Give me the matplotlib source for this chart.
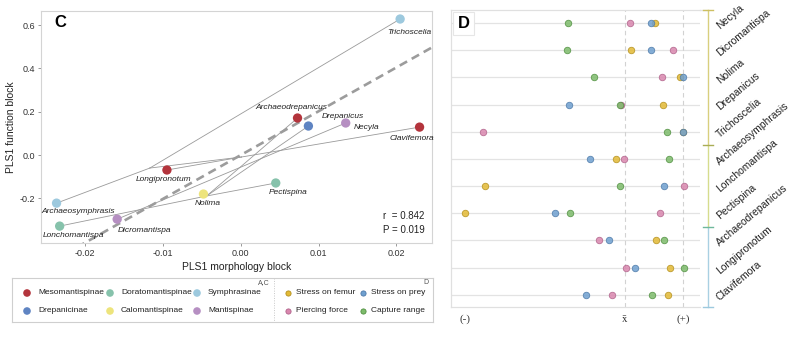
import numpy as np
import matplotlib
matplotlib.use("Agg")
import matplotlib.pyplot as plt
from matplotlib.ticker import FormatStrFormatter

plt.rcParams['font.family'] = ['Liberation Sans', 'DejaVu Sans']
plt.rcParams['mathtext.fontset'] = 'stix'

# ---------------- Panel C data ----------------
taxa = ["Trichoscelia", "Archaeodrepanicus", "Drepanicus", "Necyla", "Clavifemora",
        "Pectispina", "Nolima", "Longipronotum", "Archaeosymphrasis", "Lonchomantispa",
        "Dicromantispa"]
subfamily = ["Symphrasinae", "Mesomantispinae", "Drepanicinae", "Mantispinae", "Mesomantispinae",
             "Doratomantispinae", "Calomantispinae", "Mesomantispinae", "Symphrasinae",
             "Doratomantispinae", "Mantispinae"]
morph = [0.0205, 0.0073, 0.0087, 0.0135, 0.0230, 0.0045, -0.0048, -0.0095, -0.0237, -0.0233, -0.0159]
func = [0.628, 0.171, 0.134, 0.148, 0.129, -0.129, -0.180, -0.069, -0.222, -0.328, -0.296]

# internal (ancestral) nodes of the phylomorphospace
node_names = ["nA", "nB", "nC"]
node_morph = [-0.0117, 0.0001, -0.0044]
node_func = [-0.060, -0.009, -0.189]
edges = [("Archaeosymphrasis", "nA"), ("nA", "Trichoscelia"), ("nA", "nB"),
         ("Longipronotum", "nB"), ("nB", "Clavifemora"),
         ("Lonchomantispa", "nC"), ("nC", "Pectispina"), ("nC", "Nolima"),
         ("nC", "Archaeodrepanicus"), ("nC", "Drepanicus"), ("Dicromantispa", "Necyla")]

fit_slope = 20.2
fit_intercept = 0.0
r_value = 0.842
p_value = 0.019

subfam_order = ["Mesomantispinae", "Doratomantispinae", "Symphrasinae",
                "Drepanicinae", "Calomantispinae", "Mantispinae"]
subfam_colors = {"Mesomantispinae": "#b3343c", "Doratomantispinae": "#86c2ab",
                 "Symphrasinae": "#9dc9de", "Drepanicinae": "#5f84c2",
                 "Calomantispinae": "#ede47c", "Mantispinae": "#b68fc2"}

# ---------------- Panel D data ----------------
d_taxa = ["Necyla", "Dicromantispa", "Nolima", "Drepanicus", "Trichoscelia",
          "Archaeosymphrasis", "Lonchomantispa", "Pectispina", "Archaeodrepanicus",
          "Longipronotum", "Clavifemora"]
stress_femur = [0.52, 0.10, 0.95, 0.66, 1.00, -0.16, -2.41, -2.76, 0.53, 0.78, 0.74]
stress_prey = [0.45, 0.45, 1.00, -0.97, 1.00, -0.60, 0.67, -1.21, -0.28, 0.17, -0.67]
piercing = [0.09, 0.83, 0.64, -0.07, -2.45, -0.02, 1.02, 0.60, -0.45, 0.02, -0.22]
capture = [-0.98, -1.00, -0.53, -0.09, 0.72, 0.76, -0.09, -0.95, 0.67, 1.02, 0.47]
d_tick_pos = [-2.76, 0.0, 1.0]
d_tick_labels = ["(-)", r"$\bar{\mathrm{x}}$", "(+)"]
group_bounds = [-0.48, 4.5, 7.5, 10.45]
group_colors = ["#d8cf7e", "#d6dc8e", "#a9d0e2"]
group_tick_colors = ["#cdbf62", "#a9ad55", "#6fb89c", "#9dc9de"]

metric_names = ["Stress on femur", "Stress on prey", "Piercing force", "Capture range"]
metric_face = ["#e3ba35", "#6fa0d0", "#d987ae", "#7dbb6b"]
metric_edge = ["#b38f1c", "#4c79a8", "#b0618a", "#4f8f3f"]

# ---------------- figure ----------------
fig = plt.figure(figsize=(8, 3.39), dpi=100)
W, H = 800.0, 339.0

def px_axes(x0, y0, x1, y1):
    return fig.add_axes([x0 / W, 1 - y1 / H, (x1 - x0) / W, (y1 - y0) / H])

# ---- Panel C ----
axC = px_axes(41, 11, 432, 243)
axC.set_xlim(-0.0257, 0.0246)
axC.set_ylim(-0.406, 0.665)
for s in axC.spines.values():
    s.set_color("#d4d4d4")
    s.set_linewidth(0.8)
axC.set_xticks([-0.02, -0.01, 0.0, 0.01, 0.02])
axC.set_yticks([-0.2, 0.0, 0.2, 0.4, 0.6])
axC.xaxis.set_major_formatter(FormatStrFormatter('%.2f'))
axC.yaxis.set_major_formatter(FormatStrFormatter('%.1f'))
axC.tick_params(labelsize=6.5, length=2, width=0.6, color="#888888", labelcolor="#333333", pad=2)
axC.set_xlabel("PLS1 morphology block", fontsize=7.5, color="#222222", labelpad=3)
axC.set_ylabel("PLS1 function block", fontsize=7.5, color="#222222", labelpad=3)

coords = {t: (x, y) for t, x, y in zip(taxa, morph, func)}
coords.update({n: (x, y) for n, x, y in zip(node_names, node_morph, node_func)})
for a, b in edges:
    axC.plot([coords[a][0], coords[b][0]], [coords[a][1], coords[b][1]],
             color="#9a9a9a", lw=0.6, zorder=2)

xx = np.array(axC.get_xlim())
axC.plot(xx, fit_slope * xx + fit_intercept, color="#9c9c9c", lw=1.9,
         dashes=(3.2, 2.0), zorder=3)

axC.scatter(morph, func, s=45, c=[subfam_colors[s] for s in subfamily],
            edgecolors="none", zorder=4)

label_offsets = {"Trichoscelia": (6.5, -9.4), "Archaeodrepanicus": (-4.3, 7.9),
                 "Drepanicus": (24.5, 7.2), "Necyla": (15.0, -3.6),
                 "Clavifemora": (-5.8, -7.9), "Pectispina": (8.6, -7.2),
                 "Nolima": (2.9, -6.5), "Longipronotum": (-2.2, -6.5),
                 "Archaeosymphrasis": (15.8, -5.8), "Lonchomantispa": (10.0, -6.5),
                 "Dicromantispa": (19.4, -7.9)}
for t, x, y in zip(taxa, morph, func):
    axC.annotate(t, (x, y), xytext=label_offsets[t], textcoords="offset points",
                 ha="center", va="center", fontsize=6, style="italic", color="#222222", zorder=5)

axC.text(0.035, 0.95, "C", transform=axC.transAxes, fontsize=12, fontweight="bold",
         ha="left", va="center")
axC.text(0.875, 0.117, "r  = %.3f" % r_value, transform=axC.transAxes, fontsize=7,
         ha="left", va="center", color="#222222")
axC.text(0.875, 0.057, "P = %.3f" % p_value, transform=axC.transAxes, fontsize=7,
         ha="left", va="center", color="#222222")

# ---- Panel D ----
axD = px_axes(451, 10, 700, 307)
axD.set_xlim(-3.0, 1.293)
axD.set_ylim(10.45, -0.48)
rows = np.arange(len(d_taxa))
for s in ["top", "bottom", "left"]:
    axD.spines[s].set_color("#e0e0e0")
    axD.spines[s].set_linewidth(0.9)
axD.spines["right"].set_visible(False)
for r in rows:
    axD.axhline(r, color="#e3e3e3", lw=0.9, zorder=1)
for xv in d_tick_pos[1:]:
    axD.axvline(xv, color="#d2d2d2", lw=0.8, ls=(0, (4, 3)), zorder=1)

for vals, fc, ec in zip([stress_femur, stress_prey, piercing, capture], metric_face, metric_edge):
    axD.scatter(vals, rows, s=22, c=fc, edgecolors=ec, linewidths=0.6, alpha=0.85, zorder=3)

axD.set_yticks([])
axD.set_xticks(d_tick_pos)
axD.set_xticklabels(d_tick_labels, fontsize=8, family=["Liberation Serif", "DejaVu Serif"])
axD.tick_params(axis="x", length=0, pad=5, labelcolor="#333333")

axD.text(0.05, 0.955, "D", transform=axD.transAxes, fontsize=12, fontweight="bold",
         ha="center", va="center",
         bbox=dict(boxstyle="square,pad=0.25", fc="white", ec="#e6e6e6", lw=0.8), zorder=6)

# bracket for groups
bx = 1.43
for i in range(3):
    axD.plot([bx, bx], [group_bounds[i], group_bounds[i + 1]], color=group_colors[i],
             lw=1.0, clip_on=False, zorder=2)
for yb, tc in zip(group_bounds, group_tick_colors):
    axD.plot([bx - 0.09, bx + 0.09], [yb, yb], color=tc, lw=1.0, clip_on=False, zorder=2)
axD.plot([1.293, bx], [group_bounds[0], group_bounds[0]], color="#e6e6e6", lw=0.9,
         clip_on=False, zorder=1)

for r, t in zip(rows, d_taxa):
    axD.text(1.60, r + 0.15, t, fontsize=7.5, rotation=40, rotation_mode="anchor",
             ha="left", va="center", color="#222222", clip_on=False)

# ---- Legend ----
axL = px_axes(12, 278, 433, 322)
axL.set_xlim(12, 433)
axL.set_ylim(322, 278)
axL.set_xticks([])
axL.set_yticks([])
for s in axL.spines.values():
    s.set_color("#cfcfcf")
    s.set_linewidth(0.8)
col_x = [27, 110, 197]
row_y = [293, 311]
for i, name in enumerate(subfam_order):
    cx = col_x[i % 3]
    cy = row_y[i // 3]
    axL.scatter([cx], [cy], s=30, c=subfam_colors[name], edgecolors="none")
    axL.text(cx + 11, cy, name, fontsize=6, va="center", ha="left", color="#222222")
axL.plot([274, 274], [278, 322], color="#c8c8c8", lw=0.7, ls=(0, (1, 1.5)))
mcol_x = [288, 363]
for i, name in enumerate(metric_names):
    cx = mcol_x[i % 2]
    cy = row_y[i // 2]
    axL.scatter([cx], [cy], s=14, c=metric_face[i], edgecolors=metric_edge[i], linewidths=0.6)
    axL.text(cx + 8, cy, name, fontsize=6, va="center", ha="left", color="#222222")
axL.text(270, 283, "A,C", fontsize=5, ha="right", va="center", color="#555555")
axL.text(429, 283, "D", fontsize=5, ha="right", va="center", color="#555555")

fig.savefig("out.png", dpi=100)
